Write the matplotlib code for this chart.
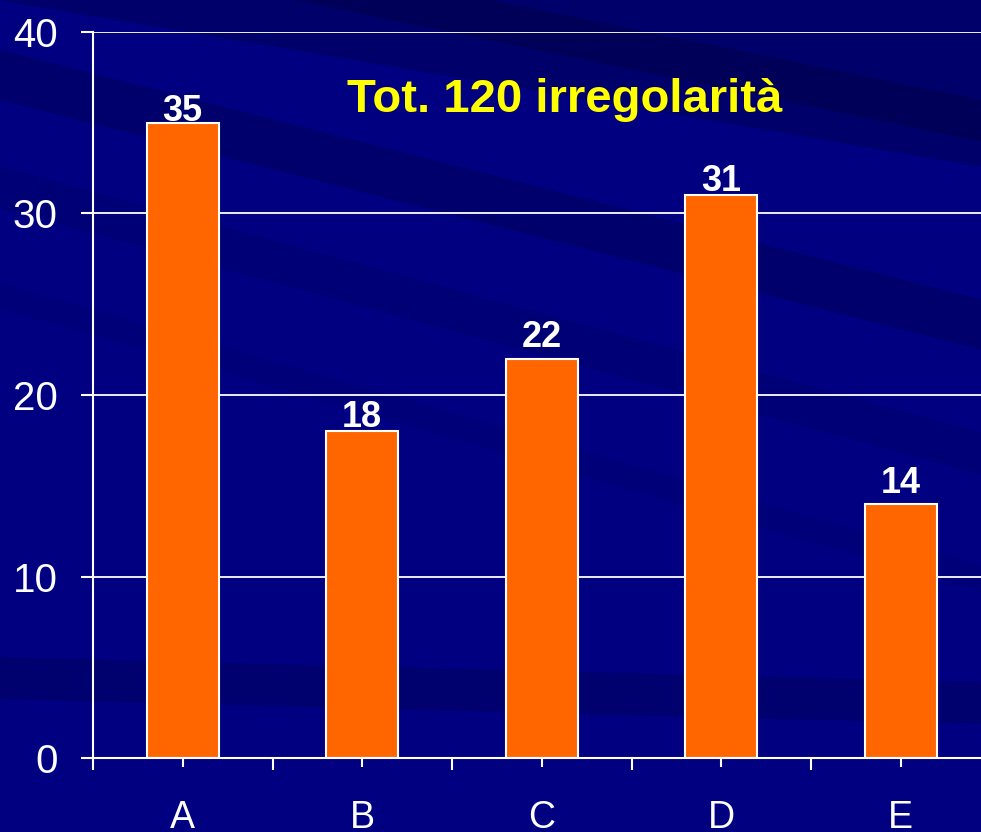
import matplotlib
matplotlib.use("Agg")
import matplotlib.pyplot as plt
from matplotlib.patches import Polygon

categories = ["A", "B", "C", "D", "E"]
values = [35, 18, 22, 31, 14]
y_ticks = [0, 10, 20, 30, 40]
title_text = "Tot. 120 irregolarità"

# label gap above each bar (points) - styling only
label_gaps = [1, 3, 8.5, 3, 8]

fig = plt.figure(figsize=(9.81, 8.32), dpi=100)
fig.patch.set_facecolor("#000080")

# background streaks in a full-figure background axes
bg = fig.add_axes([0, 0, 1, 1], zorder=-10)
bg.set_xlim(0, 1)
bg.set_ylim(0, 1)
bg.axis("off")
bg.set_facecolor("#000080")
streaks = [
    ([(0, 0.94), (1, 0.64), (1, 0.58), (0, 0.88)], "#000058", 0.45),
    ([(0.3, 1.0), (1, 1.0), (1, 0.80), (0.0, 1.0)], "#000050", 0.45),
    ([(0.5, 1.0), (1, 0.88), (1, 0.83), (0.3, 1.0)], "#000040", 0.4),
    ([(0, 0.80), (1, 0.48), (1, 0.43), (0, 0.75)], "#000068", 0.4),
    ([(0, 0.21), (1, 0.18), (1, 0.13), (0, 0.16)], "#000060", 0.55),
    ([(0, 0.66), (1, 0.32), (1, 0.29), (0, 0.63)], "#00006a", 0.35),
]
for pts, c, a in streaks:
    bg.add_patch(Polygon(pts, closed=True, facecolor=c, edgecolor="none", alpha=a))

ax = fig.add_axes([93/981, 1-758/832, 1-93/981, (758-32)/832])
ax.set_facecolor("none")

x = list(range(len(categories)))
ax.bar(x, values, width=0.4, color="#FF6600", edgecolor="white",
       linewidth=1.5, zorder=3)

for xi, v, g in zip(x, values, label_gaps):
    ax.annotate(str(v), (xi, v), xytext=(0, g), textcoords="offset points",
                ha="center", va="baseline", color="white",
                fontsize=26, fontweight="bold", family="Liberation Sans",
                zorder=4)

ax.set_yticks(y_ticks)
ax.set_xticks(x)
ax.set_xticklabels(categories)
ax.set_xticks([i - 0.5 for i in range(6)], minor=True)
ax.set_xlim(-0.5, 4.447)
ax.set_ylim(0, 40)

ax.yaxis.grid(True, color="white", linewidth=1.3, zorder=1)
ax.set_axisbelow(True)

for s in ["top", "right"]:
    ax.spines[s].set_visible(False)
for s in ["left", "bottom"]:
    ax.spines[s].set_color("white")
    ax.spines[s].set_linewidth(1.5)
    ax.spines[s].set_zorder(5)

ax.tick_params(axis="y", colors="white", labelsize=29, length=8.6, width=1.5,
               direction="out", pad=17)
ax.tick_params(axis="x", which="major", colors="white", labelsize=27,
               length=6.5, width=1.5, pad=24)
ax.tick_params(axis="x", which="minor", colors="white", length=8.6, width=1.5)
for lab in ax.get_xticklabels() + ax.get_yticklabels():
    lab.set_family("Liberation Sans")

ax.text((565-93)/888, (758-100)/726, title_text, transform=ax.transAxes,
        ha="center", va="center", color="#FFFF00", fontsize=34,
        fontweight="bold", family="Liberation Sans", zorder=4)

fig.savefig("out.png", dpi=100, facecolor=fig.get_facecolor())
